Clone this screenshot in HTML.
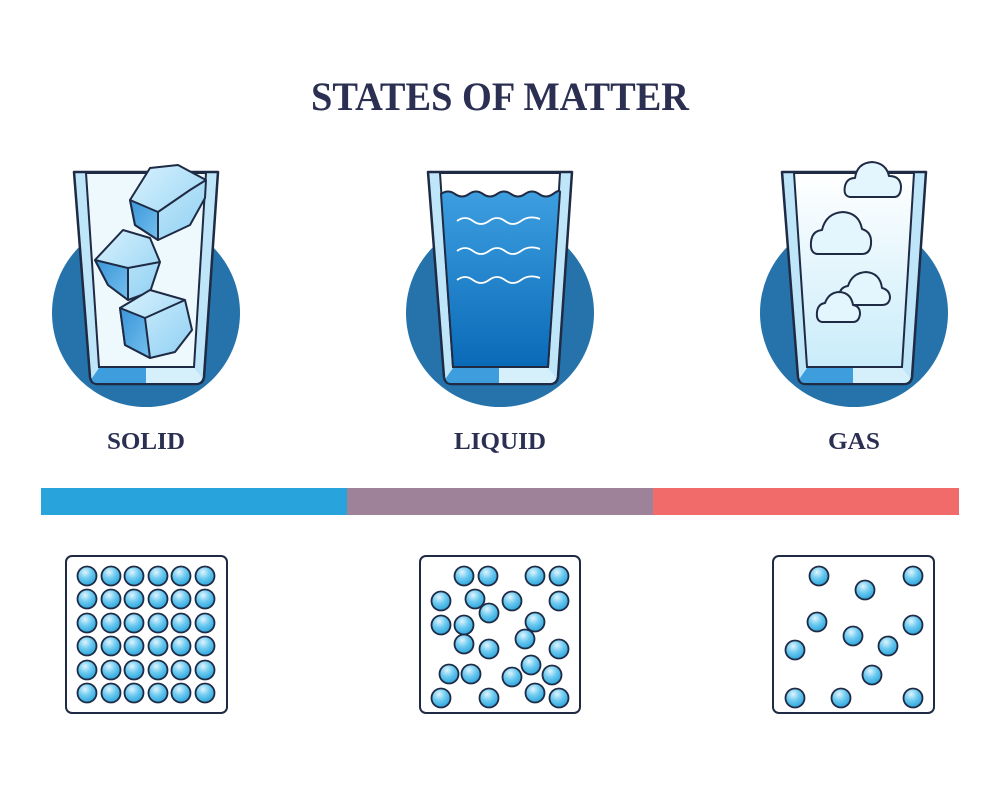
<!DOCTYPE html>
<html><head><meta charset="utf-8"><style>
html,body{margin:0;padding:0;background:#fff;}
svg{display:block;}
text{font-family:"Liberation Serif",serif;font-weight:bold;fill:#2b2f52;}
</style></head><body>
<svg width="1000" height="790" viewBox="0 0 1000 790">
<defs>
<linearGradient id="water" x1="0" y1="0" x2="0" y2="1"><stop offset="0" stop-color="#3d9fe0"/><stop offset="1" stop-color="#0a6ab8"/></linearGradient>
<linearGradient id="gasfill" x1="0" y1="0" x2="0" y2="1"><stop offset="0" stop-color="#ffffff"/><stop offset="1" stop-color="#c9ecfa"/></linearGradient>
<radialGradient id="ball" cx="0.4" cy="0.3" r="0.7"><stop offset="0" stop-color="#dff4fd"/><stop offset="0.5" stop-color="#6ccaf0"/><stop offset="1" stop-color="#2ea6dc"/></radialGradient>
<linearGradient id="ice" x1="0" y1="0" x2="1" y2="1"><stop offset="0" stop-color="#d8f2fd"/><stop offset="1" stop-color="#8fd0f3"/></linearGradient>
<linearGradient id="iced" x1="0" y1="0" x2="1" y2="1"><stop offset="0" stop-color="#3a95d8"/><stop offset="1" stop-color="#74c0ee"/></linearGradient>
</defs>

<text x="500" y="110" text-anchor="middle" font-size="40" textLength="378" lengthAdjust="spacingAndGlyphs">STATES OF MATTER</text>

<circle cx="146" cy="313" r="94" fill="#2573aa"/>
<circle cx="500" cy="313" r="94" fill="#2573aa"/>
<circle cx="854" cy="313" r="94" fill="#2573aa"/>

<g>
<path d="M74 172 L218 172 L204 377 Q203 384 196 384 L98 384 Q91 384 90 377 Z" fill="#bfe6f8" stroke="#1f2a44" stroke-width="2.5" stroke-linejoin="round"/>
<path d="M86 173 L206 173 L194 367 L99 367 Z" fill="#eef9fe" stroke="#1f2a44" stroke-width="2"/>
<path d="M99 368 L146 368 L146 383 L97 383 Q92 383 92 378 Z" fill="#3d9ddd"/>
<path d="M146 368 L194 368 L202 378 Q201 383 196 383 L146 383 Z" fill="#d6f0fb"/>
<g stroke="#1f2a44" stroke-width="2" stroke-linejoin="round">
<path d="M130 200 L150 168 L178 165 L206 180 L205 198 L190 225 L158 240 L135 225 Z" fill="url(#ice)"/>
<path d="M130 200 L158 212 L158 240 L135 225 Z" fill="url(#iced)"/>
<path d="M158 212 L190 190 L206 180" fill="none"/>
<path d="M95 260 L123 230 L150 238 L160 262 L150 292 L128 300 L108 285 Z" fill="url(#ice)"/>
<path d="M95 260 L128 268 L128 300 L108 285 Z" fill="url(#iced)"/>
<path d="M128 268 L160 262" fill="none"/>
<path d="M120 308 L150 290 L185 300 L192 330 L175 352 L150 358 L125 345 Z" fill="url(#ice)"/>
<path d="M120 308 L145 318 L150 358 L125 345 Z" fill="url(#iced)"/>
<path d="M145 318 L185 300" fill="none"/>
</g>
</g>

<g>
<path d="M428 172 L572 172 L558 377 Q557 384 550 384 L452 384 Q445 384 444 377 Z" fill="#bfe6f8" stroke="#1f2a44" stroke-width="2.5" stroke-linejoin="round"/>
<path d="M440 173 L560 173 L548 367 L453 367 Z" fill="#fff" stroke="#1f2a44" stroke-width="2"/>
<path d="M441 194 Q448 189 455 194 T469 194 T483 194 T497 194 T511 194 T525 194 T539 194 T553 194 T560 192 L548 367 L453 367 Z" fill="url(#water)" stroke="#1f2a44" stroke-width="2"/>
<g stroke="#fff" stroke-width="1.8" fill="none">
<path d="M457 221 Q465 215 473 221 T489 221 T505 221 T521 221 T540 219"/>
<path d="M457 251 Q465 245 473 251 T489 251 T505 251 T521 251 T540 249"/>
<path d="M457 280 Q465 274 473 280 T489 280 T505 280 T521 280 T540 278"/>
</g>
<path d="M453 368 L499 368 L499 383 L451 383 Q446 383 446 378 Z" fill="#3d9ddd"/>
<path d="M499 368 L548 368 L556 378 Q555 383 550 383 L499 383 Z" fill="#d6f0fb"/>
</g>

<g>
<path d="M782 172 L926 172 L912 377 Q911 384 904 384 L806 384 Q799 384 798 377 Z" fill="#bfe6f8" stroke="#1f2a44" stroke-width="2.5" stroke-linejoin="round"/>
<path d="M794 173 L914 173 L902 367 L807 367 Z" fill="url(#gasfill)" stroke="#1f2a44" stroke-width="2"/>
<path d="M807 368 L853 368 L853 383 L805 383 Q800 383 800 378 Z" fill="#3d9ddd"/>
<path d="M853 368 L902 368 L910 378 Q909 383 904 383 L853 383 Z" fill="#d6f0fb"/>
<g fill="#e4f6fd" stroke="#1f2a44" stroke-width="2" stroke-linejoin="round">
<path d="M850 197 Q843 196 845 186 Q847 178 855 178 Q857 163 872 162 Q886 163 889 176 Q900 176 901 186 Q901 197 894 197 Z"/>
<path d="M817 254 Q810 253 811 242 Q812 231 822 230 Q826 213 843 212 Q859 213 862 229 Q872 232 871 244 Q870 254 862 254 Z"/>
<path d="M844 305 Q838 304 839 296 Q840 287 848 286 Q852 273 866 272 Q880 273 882 288 Q890 290 890 298 Q889 305 882 305 Z"/>
<path d="M822 322 Q816 321 817 312 Q818 304 825 303 Q829 292 840 292 Q851 293 853 305 Q860 306 860 314 Q859 322 853 322 Z"/>
</g>
</g>

<text x="146" y="449" text-anchor="middle" font-size="24" textLength="78" lengthAdjust="spacingAndGlyphs">SOLID</text>
<text x="500" y="449" text-anchor="middle" font-size="24" textLength="92" lengthAdjust="spacingAndGlyphs">LIQUID</text>
<text x="854" y="449" text-anchor="middle" font-size="24" textLength="52" lengthAdjust="spacingAndGlyphs">GAS</text>

<rect x="41" y="488" width="306" height="27" fill="#29a3dc"/>
<rect x="347" y="488" width="306" height="27" fill="#9e8299"/>
<rect x="653" y="488" width="306" height="27" fill="#f26b6b"/>

<rect x="66" y="556" width="161" height="157" rx="6" fill="#fff" stroke="#1f2a44" stroke-width="2"/>
<rect x="420" y="556" width="160" height="157" rx="6" fill="#fff" stroke="#1f2a44" stroke-width="2"/>
<rect x="773" y="556" width="161" height="157" rx="6" fill="#fff" stroke="#1f2a44" stroke-width="2"/>
<g id="particles"></g>
</svg>
<script>
const solidCols = [87,111,134,158,181,205];
const solidRows = [576,599,623,646,670,693];
const liquidX = [464,488,535,559,441,475,512,559,489,441,464,535,464,489,525,559,449,471,512,531,552,441,489,535,559];
const liquidY = [576,576,576,576,601,599,601,601,613,625,625,622,644,649,639,649,674,674,677,665,675,698,698,693,698];
const gasX = [819,913,865,817,913,853,888,795,872,795,841,913];
const gasY = [576,576,590,622,625,636,646,650,675,698,698,698];
const g = document.getElementById('particles');
function ball(x,y,name){
  const c = document.createElementNS('http://www.w3.org/2000/svg','circle');
  c.setAttribute('cx',x);c.setAttribute('cy',y);c.setAttribute('r',9.5);
  c.setAttribute('fill','url(#ball)');c.setAttribute('stroke','#1f2a44');c.setAttribute('stroke-width','1.8');
  
  
  g.appendChild(c);
}
solidRows.forEach(y=>solidCols.forEach(x=>ball(x,y,'solid-particle')));
liquidX.forEach((x,i)=>ball(x,liquidY[i],'liquid-particle'));
gasX.forEach((x,i)=>ball(x,gasY[i],'gas-particle'));
</script>
</body></html>
